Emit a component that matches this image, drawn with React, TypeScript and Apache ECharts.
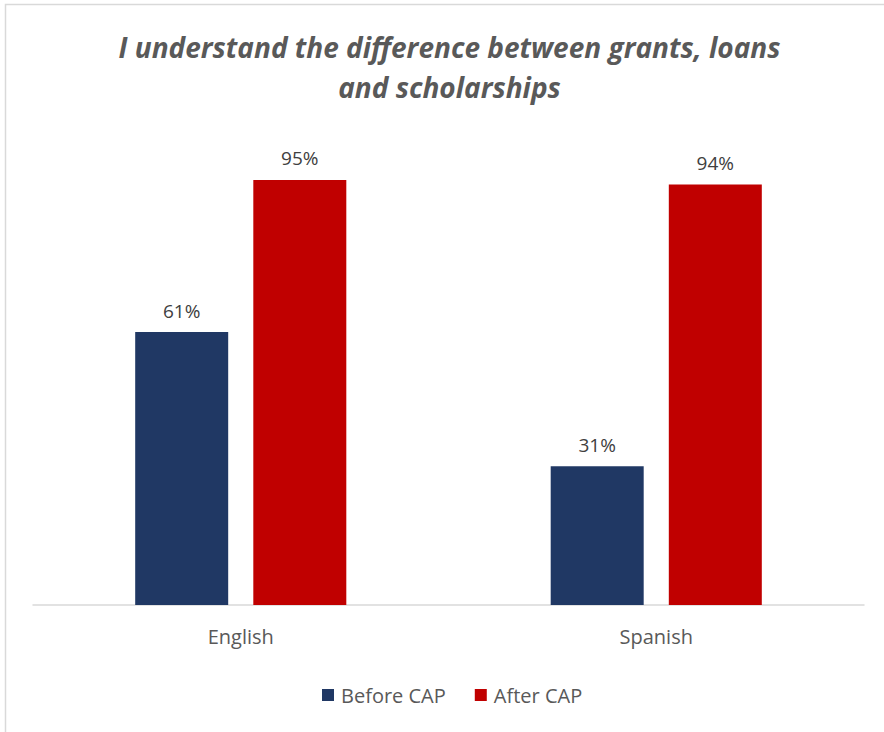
import React, { useEffect, useRef } from "react";
import * as echarts from "echarts";

const categories = ["English", "Spanish"];
const beforeCAP = [61, 31];
const afterCAP = [95, 94];
const seriesNames = ["Before CAP", "After CAP"];
const titleText = "I understand the difference between grants, loans\nand scholarships";

export default function App() {
  const ref = useRef<HTMLDivElement>(null);
  useEffect(() => {
    if (!ref.current) return;
    const chart = echarts.init(ref.current, null, { renderer: "svg" });
    const font = "'Open Sans', sans-serif";
    const labelCfg = {
      show: true,
      position: "top",
      distance: 12,
      formatter: (p: any) => p.value + "%",
      color: "#404040",
      fontSize: 19,
      fontFamily: font,
    };
    chart.setOption({
      animation: false,
      backgroundColor: "#ffffff",
      graphic: [
        {
          type: "rect",
          shape: { x: 5.5, y: 4.5, width: 1000, height: 1000 },
          style: { fill: "none", stroke: "#d9d9d9", lineWidth: 1.5 },
          silent: true,
          z: -1,
        },
        {
          type: "text",
          x: 449.5,
          y: 67,
          silent: true,
          style: {
            text: titleText,
            fontFamily: font,
            fontSize: 28,
            fontWeight: "bold",
            fontStyle: "italic",
            fill: "#595959",
            lineHeight: 40,
            align: "center",
            verticalAlign: "middle",
          },
        },
      ],
      legend: {
        data: seriesNames,
        bottom: 22,
        left: 317,
        icon: "rect",
        itemWidth: 12,
        itemHeight: 12,
        itemGap: 29,
        itemStyle: { borderWidth: 0 },
        textStyle: { fontFamily: font, fontSize: 20, color: "#595959", padding: [0, 0, 0, 2] },
      },
      grid: { left: 33, right: 20, top: 157.6, bottom: 127 },
      xAxis: {
        type: "category",
        data: categories,
        axisLine: { lineStyle: { color: "#d9d9d9", width: 1.5 } },
        axisTick: { show: false },
        axisLabel: { fontFamily: font, fontSize: 20, color: "#595959", margin: 21 },
      },
      yAxis: {
        type: "value",
        min: 0,
        max: 100,
        show: false,
        splitLine: { show: false },
      },
      series: [
        {
          name: seriesNames[0],
          type: "bar",
          data: beforeCAP,
          barWidth: 93,
          barGap: "27%",
          itemStyle: { color: "#203864" },
          label: labelCfg,
        },
        {
          name: seriesNames[1],
          type: "bar",
          data: afterCAP,
          barWidth: 93,
          barGap: "27%",
          itemStyle: { color: "#C00000" },
          label: labelCfg,
        },
      ],
    });
    return () => chart.dispose();
  }, []);
  return (
    <div
      ref={ref}
      style={{ position: "absolute", left: 0, top: 0, width: 884, height: 732 }}
    />
  );
}
